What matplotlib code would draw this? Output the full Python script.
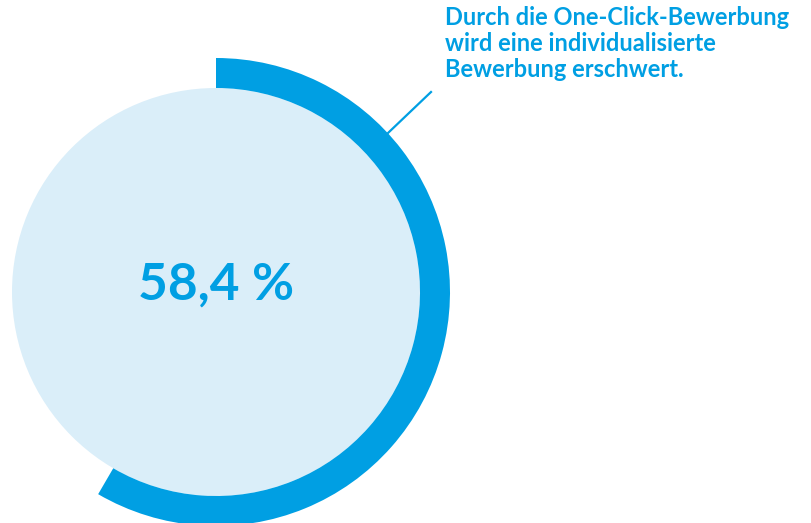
import matplotlib.pyplot as plt
from matplotlib.patches import Circle

# Anteil, der zustimmt
share = 58.4
rest = 100 - share
label = "58,4 %"
caption = "Durch die One-Click-Bewerbung\nwird eine individualisierte\nBewerbung erschwert."

blue = "#009FE3"
light = "#DAEEF9"

W, H = 812, 523
fig = plt.figure(figsize=(W / 100, H / 100), dpi=100)
ax = fig.add_axes([0, 0, 1, 1])

cx, cy = 216, H - 292
r_in, r_out = 204, 234

ax.add_patch(Circle((cx, cy), r_in, color=light, lw=0))
ax.pie([share, rest], colors=[blue, "none"], startangle=90, counterclock=False,
       radius=r_out, center=(cx, cy), frame=True,
       wedgeprops=dict(width=r_out - r_in, linewidth=0))

ax.text(cx, H - 285, label, ha="center", va="center", fontsize=37,
        fontweight="bold", color=blue, family="Lato")

ax.plot([388, 431], [H - 133, H - 92], color=blue, lw=1.6)
ax.text(445, H - 6, caption, ha="left", va="top", fontsize=17,
        fontweight="bold", color=blue, family="Lato", linespacing=1.15)

ax.set_xlim(0, W)
ax.set_ylim(0, H)
ax.set_aspect("equal")
ax.axis("off")

fig.savefig("out.png", dpi=100)
